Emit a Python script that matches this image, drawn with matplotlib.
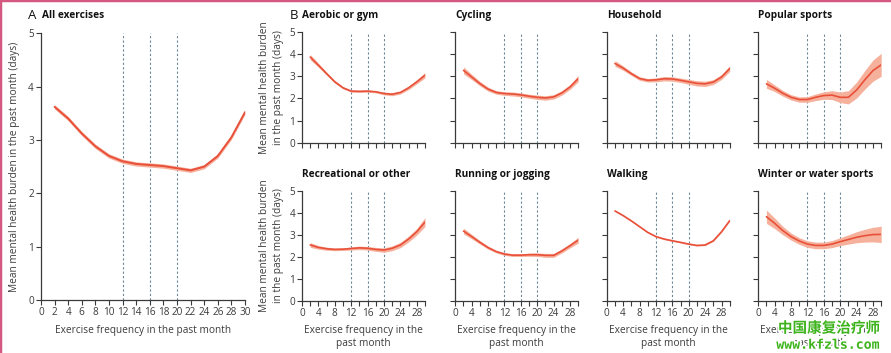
import matplotlib
matplotlib.use("Agg")
import matplotlib.pyplot as plt
import matplotlib.patheffects as pe
from matplotlib.lines import Line2D
import numpy as np

plt.rcParams["font.family"] = ["Open Sans", "Noto Sans CJK SC", "DejaVu Sans"]

# exercise frequency (days in past month) at which the curves were read
freq = [2, 4, 6, 8, 10, 12, 14, 16, 18, 20, 22, 24, 26, 28, 30]

# panel A: all exercises
all_mean = [3.62, 3.40, 3.12, 2.88, 2.70, 2.60, 2.55, 2.53, 2.51, 2.47, 2.43, 2.50, 2.70, 3.05, 3.52]
all_half = [0.04] * 15

# panel B: by exercise type (mean, half width of CI band)
aerobic_mean = [3.87, 3.50, 3.12, 2.75, 2.48, 2.33, 2.32, 2.33, 2.30, 2.22, 2.19, 2.27, 2.48, 2.75, 3.05]
aerobic_half = [0.12, 0.09, 0.07, 0.06, 0.05, 0.05, 0.05, 0.05, 0.05, 0.06, 0.07, 0.07, 0.08, 0.09, 0.12]
cycling_mean = [3.27, 2.97, 2.67, 2.42, 2.27, 2.22, 2.20, 2.16, 2.10, 2.05, 2.02, 2.07, 2.25, 2.52, 2.90]
cycling_half = [0.16, 0.12, 0.10, 0.09, 0.08, 0.08, 0.09, 0.09, 0.09, 0.10, 0.10, 0.10, 0.10, 0.11, 0.14]
household_mean = [3.58, 3.37, 3.12, 2.90, 2.82, 2.84, 2.89, 2.88, 2.82, 2.75, 2.68, 2.66, 2.74, 2.97, 3.35]
household_half = [0.13, 0.10, 0.08, 0.08, 0.08, 0.09, 0.10, 0.10, 0.10, 0.11, 0.12, 0.12, 0.11, 0.11, 0.13]
popular_mean = [2.66, 2.46, 2.23, 2.05, 1.95, 1.95, 2.05, 2.13, 2.15, 2.05, 2.05, 2.38, 2.84, 3.26, 3.52]
popular_half = [0.20, 0.15, 0.13, 0.12, 0.12, 0.13, 0.15, 0.17, 0.20, 0.24, 0.30, 0.36, 0.42, 0.48, 0.52]
recreational_mean = [2.54, 2.43, 2.37, 2.34, 2.35, 2.38, 2.41, 2.39, 2.34, 2.31, 2.39, 2.54, 2.81, 3.14, 3.58]
recreational_half = [0.11, 0.08, 0.07, 0.06, 0.06, 0.07, 0.08, 0.08, 0.09, 0.10, 0.11, 0.12, 0.13, 0.15, 0.20]
running_mean = [3.17, 2.92, 2.66, 2.42, 2.24, 2.13, 2.08, 2.08, 2.10, 2.10, 2.07, 2.07, 2.27, 2.51, 2.76]
running_half = [0.13, 0.10, 0.08, 0.07, 0.06, 0.06, 0.06, 0.06, 0.07, 0.08, 0.09, 0.09, 0.09, 0.10, 0.13]
walking_mean = [4.08, 3.87, 3.63, 3.37, 3.11, 2.92, 2.81, 2.73, 2.66, 2.58, 2.52, 2.54, 2.73, 3.14, 3.64]
walking_half = [0.03] * 15
winter_mean = [3.82, 3.52, 3.19, 2.92, 2.72, 2.58, 2.52, 2.52, 2.58, 2.69, 2.79, 2.89, 2.96, 3.01, 3.02]
winter_half = [0.30, 0.24, 0.19, 0.16, 0.15, 0.15, 0.15, 0.15, 0.16, 0.18, 0.21, 0.25, 0.29, 0.33, 0.37]

panel_titles = ["Aerobic or gym", "Cycling", "Household", "Popular sports",
                "Recreational or other", "Running or jogging", "Walking", "Winter or water sports"]
panel_means = [aerobic_mean, cycling_mean, household_mean, popular_mean,
               recreational_mean, running_mean, walking_mean, winter_mean]
panel_halves = [aerobic_half, cycling_half, household_half, popular_half,
                recreational_half, running_half, walking_half, winter_half]

cutoffs = [12, 16, 20]

LINE = "#e9503a"
BAND = "#f6b19c"
GUIDE = "#6d8796"
SPINE = "#3a3a3a"
TEXT = "#3c3c3c"


def style_axis(ax):
    for side in ("top", "right"):
        ax.spines[side].set_visible(False)
    for side in ("left", "bottom"):
        ax.spines[side].set_color(SPINE)
        ax.spines[side].set_linewidth(0.9)
    ax.tick_params(direction="out", length=3.5, width=0.8, colors=SPINE,
                   labelsize=7.2, labelcolor=TEXT, pad=1.5)
    ax.set_ylim(0, 5)
    ax.set_xlim(0, 30)
    ax.set_yticks(range(0, 6))
    for c in cutoffs:
        ax.axvline(c, color=GUIDE, lw=0.8, ls=(0, (2, 2)), zorder=1)


def draw_curve(ax, mean, half, lw=1.2):
    x = np.array(freq)
    m = np.array(mean)
    h = np.array(half)
    ax.fill_between(x, m - h, m + h, color=BAND, lw=0, zorder=2)
    ax.plot(x, m, color=LINE, lw=lw, zorder=3, solid_capstyle="round", solid_joinstyle="round")


fig = plt.figure(figsize=(8.91, 3.53), dpi=100)

# panel A
axA = fig.add_axes([0.046, 0.150, 0.229, 0.756])
style_axis(axA)
draw_curve(axA, all_mean, all_half, lw=1.4)
axA.set_xticks(range(0, 31, 2))
axA.set_ylabel("Mean mental health burden in the past month (days)", fontsize=7.3, color=TEXT, labelpad=6)
axA.set_xlabel("Exercise frequency in the past month", fontsize=7.3, color=TEXT, labelpad=5)
fig.text(0.031, 0.955, "A", fontsize=9.5, color="#111", va="center")
fig.text(0.047, 0.955, "All exercises", fontsize=7.3, fontweight="bold", color="#111", va="center")

# panel B
lefts = [0.339, 0.511, 0.681, 0.851]
bottoms = [0.596, 0.147]
for i, (title, mean, half) in enumerate(zip(panel_titles, panel_means, panel_halves)):
    row, col = divmod(i, 4)
    ax = fig.add_axes([lefts[col], bottoms[row], 0.138, 0.313])
    style_axis(ax)
    draw_curve(ax, mean, half)
    ax.set_xticks(range(0, 31, 2))
    if row == 1:
        ax.set_xticklabels([str(v) if v % 4 == 0 and v < 30 else "" for v in range(0, 31, 2)])
        ax.set_xlabel("Exercise frequency in the\npast month", fontsize=7.3, color=TEXT,
                      labelpad=4, linespacing=1.3)
    else:
        ax.set_xticklabels([])
    if col == 0:
        ax.set_ylabel("Mean mental health burden\nin the past month (days)", fontsize=7.3,
                      color=TEXT, labelpad=4, linespacing=1.3)
    else:
        ax.set_yticklabels([])
    ty = 0.955 if row == 0 else 0.507
    fig.text(lefts[col], ty, title, fontsize=7.3, fontweight="bold", color="#111", va="center")

fig.text(0.325, 0.955, "B", fontsize=9.5, color="#111", va="center")

# page frame edges (top and left)
fig.add_artist(Line2D([0, 0], [0, 1], transform=fig.transFigure, color="#d4587f", lw=2.5))
fig.add_artist(Line2D([0, 1], [1, 1], transform=fig.transFigure, color="#d4587f", lw=2.5))

# watermark
halo = [pe.withStroke(linewidth=2.5, foreground="white")]
fig.text(0.988, 0.072, "中国康复治疗师", fontsize=10.5, fontweight="bold", color="#3db31c",
         ha="right", va="center", family=["Noto Sans CJK SC", "DejaVu Sans"], path_effects=halo)
fig.text(0.988, 0.022, "www.kfzls.com", fontsize=9.5, fontweight="bold", color="#3db31c",
         ha="right", va="center", family=["DejaVu Sans Mono"], path_effects=halo)

fig.savefig("out.png", dpi=100)
